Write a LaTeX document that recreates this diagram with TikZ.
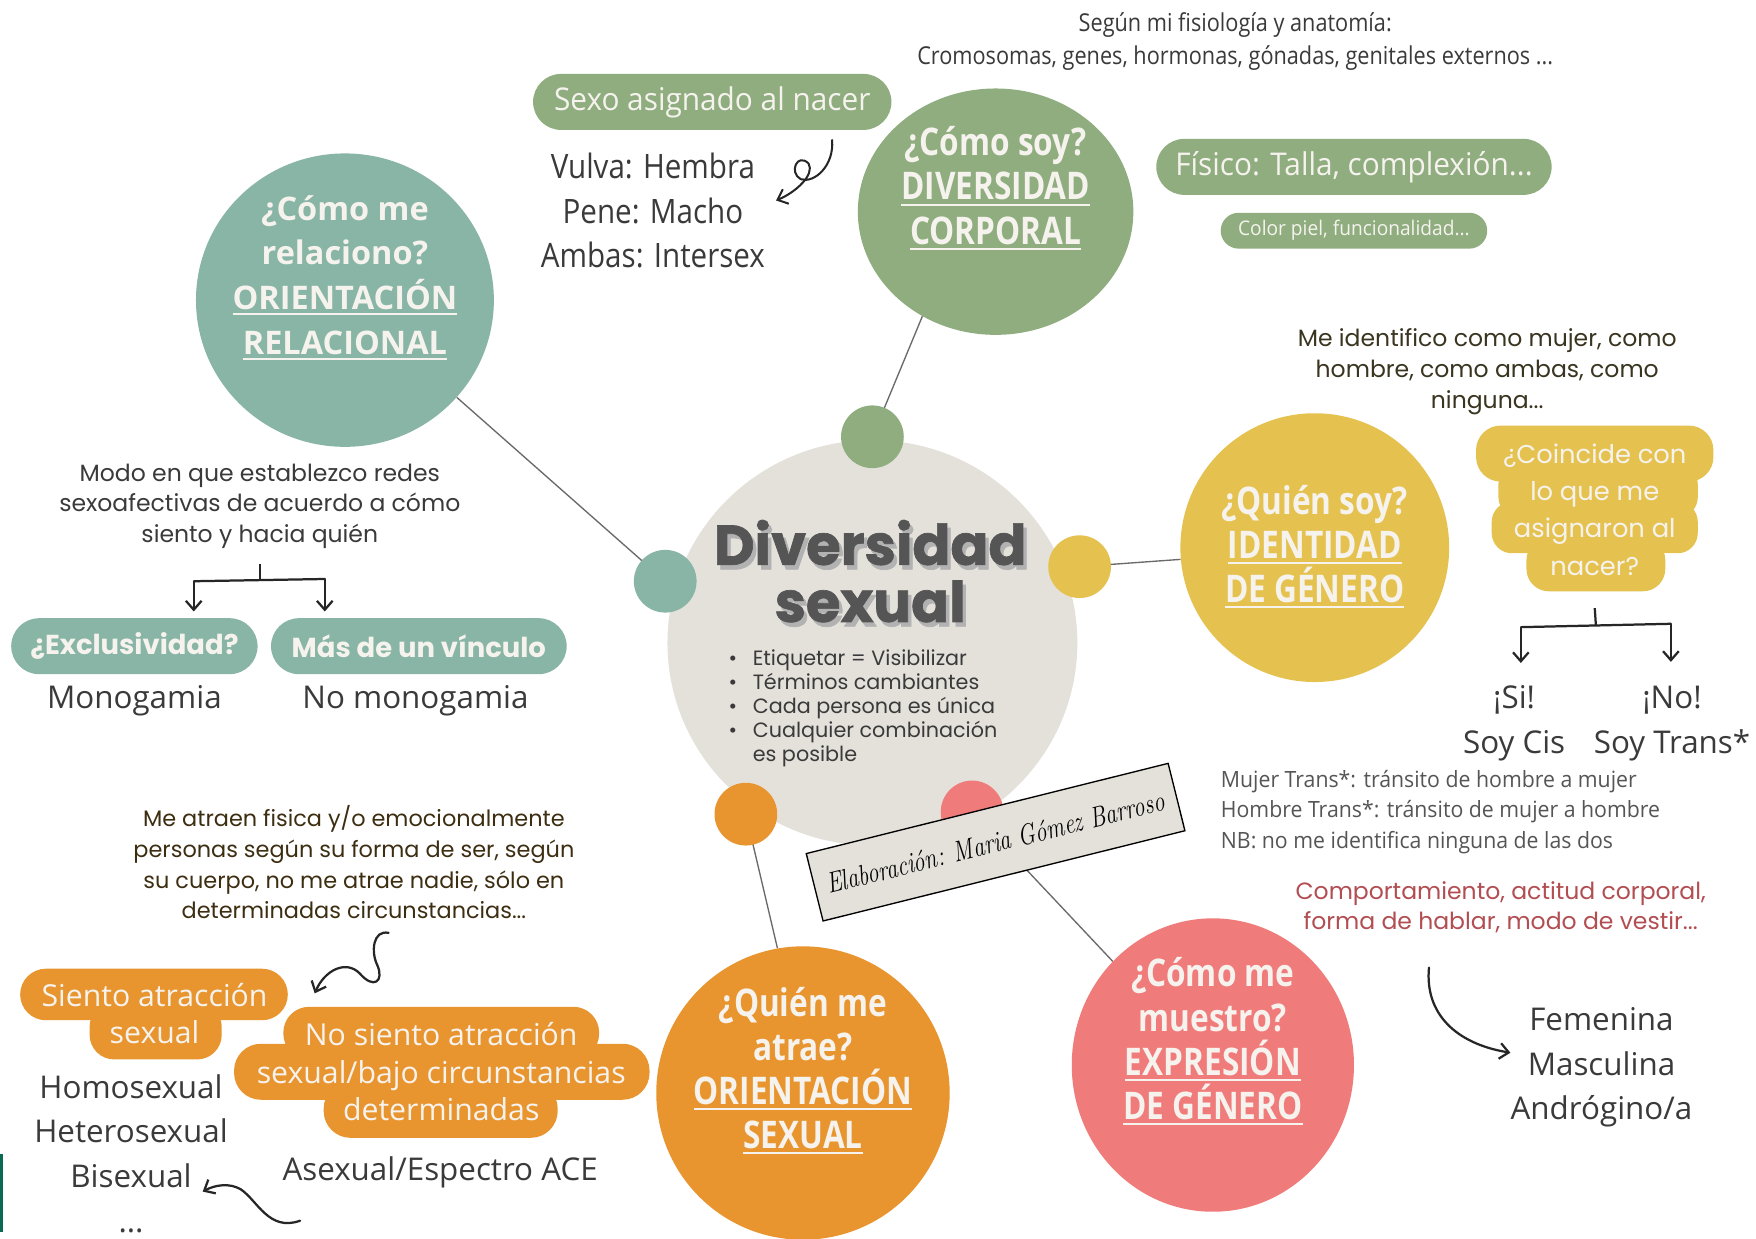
\documentclass[tikz,border=0pt]{standalone}
\usepackage{fontspec}
\newfontfamily\osr{Open Sans}
\newfontfamily\osc{Open Sans}[FakeStretch=0.88]
\newfontfamily\osm{Open Sans}[FakeStretch=0.95]
\newfontfamily\osb{Open Sans}[FakeStretch=0.83]
\newfontfamily\pop{Poppins}
\newfontfamily\popx{Poppins}[FakeBold=1.2]
\usetikzlibrary{arrows.meta,shapes.geometric,backgrounds}
\definecolor{tealc}{HTML}{88B5A5}
\definecolor{sagec}{HTML}{8FAD7F}
\definecolor{yelc}{HTML}{E5C250}
\definecolor{orac}{HTML}{E8952F}
\definecolor{pinkc}{HTML}{F07B7B}
\definecolor{greyc}{HTML}{E4E1DB}
\definecolor{titc}{HTML}{F6F3EE}
\definecolor{txt}{HTML}{3A3A3A}
\definecolor{txtl}{HTML}{555555}
\definecolor{redt}{HTML}{B24E52}
\definecolor{brownt}{HTML}{3D2E12}
\definecolor{olivt}{HTML}{3A3520}
\definecolor{darkg}{HTML}{0B6A52}
\definecolor{spokec}{HTML}{6A6A6A}
\newcommand\ulx[1]{\setbox0\hbox{#1}\rlap{\rule[-5pt]{\wd0}{1.8pt}}\box0}
\newcommand\fsz[2]{\fontsize{#1}{#2}\selectfont}
\newcommand\shd[1]{\rlap{\hspace{3pt}\raisebox{-4pt}{\textcolor{black!30}{#1}}}#1}
\tikzset{
  bigc/.style={ellipse, inner sep=0pt},
  dotc/.style={circle, inner sep=0pt, minimum size=56pt},
  spoke/.style={draw=spokec, line width=1.2pt},
  ttl/.style={text=titc, align=center, inner sep=0pt},
  pillbox/.style={rounded corners=#1, inner sep=0pt},
  body/.style={text=txt, align=center, inner sep=0pt},
  brk/.style={draw=black!85, line width=2pt},
  barb/.style={draw=black!85, line width=2pt, line cap=round, -{Straight Barb[length=8pt,width=14pt]}}
}
\begin{document}
\begin{tikzpicture}[x=1pt,y=-1pt]
\useasboundingbox (0,0) rectangle (1568,1106);

% central circle
\node[bigc, fill=greyc, minimum width=366pt, minimum height=362pt] (cen) at (779,574) {};

% big circles
\node[bigc, fill=tealc, minimum width=266pt, minimum height=262pt] (tc) at (308,268) {};
\node[bigc, fill=sagec, minimum width=246pt, minimum height=220pt] (gc) at (889,189) {};
\node[bigc, fill=yelc, minimum width=240pt, minimum height=240pt] (yc) at (1174,489) {};
\node[bigc, fill=orac, minimum width=262pt, minimum height=262pt] (oc) at (717,976) {};
\node[bigc, fill=pinkc, minimum width=252pt, minimum height=262pt] (pc) at (1083,951) {};

% dots
\node[dotc, fill=sagec] (dg) at (779,390) {};
\node[dotc, fill=tealc] (dt) at (594,519) {};
\node[dotc, fill=yelc] (dy) at (964,506) {};
\node[dotc, fill=orac] (do) at (666,727) {};
\node[dotc, fill=pinkc] (dp) at (868,725) {};

\begin{pgfonlayer}{background}
\fill[white] (0,0) rectangle (1568,1106);
\draw[spoke] (dt.center) -- (tc.-41);
\draw[spoke] (dg.center) -- (gc.235);
\draw[spoke] (dy.center) -- (yc.185);
\draw[spoke] (do.center) -- (oc.100);
\draw[spoke] (dp.center) -- (pc.134);
\end{pgfonlayer}

% titles in circles
\node[ttl, font=\osr\bfseries\fsz{29}{40}] (tct) at (308,248) {¿Cómo me\\relaciono?\\\ulx{ORIENTACIÓN}\\\ulx{RELACIONAL}};
\node[ttl, font=\osb\bfseries\fsz{34}{39.5}] (gct) at (889,168) {¿Cómo soy?\\\ulx{DIVERSIDAD}\\\ulx{CORPORAL}};
\node[ttl, font=\osb\bfseries\fsz{34}{39.5}] (yct) at (1174,488) {¿Quién soy?\\\ulx{IDENTIDAD}\\\ulx{DE GÉNERO}};
\node[ttl, font=\osb\bfseries\fsz{34}{39.5}] (oct) at (717,956) {¿Quién me\\atrae?\\\ulx{ORIENTACIÓN}\\\ulx{SEXUAL}};
\node[ttl, font=\osb\bfseries\fsz{34}{39.5}] (pct) at (1083,930) {¿Cómo me\\muestro?\\\ulx{EXPRESIÓN}\\\ulx{DE GÉNERO}};

% centre title
\node[align=center, inner sep=0pt, text=txtl, font=\popx\bfseries\fsz{50}{51}] (dvs) at (777,512) {\shd{Diversidad}\\\shd{sexual}};
\node[anchor=north west, align=left, inner sep=0pt, text=txt, font=\pop\fsz{18.5}{21.5}] (bul) at (672,580)
 {\llap{\textbullet\hspace{14pt}}Etiquetar = Visibilizar\\
  \llap{\textbullet\hspace{14pt}}Términos cambiantes\\
  \llap{\textbullet\hspace{14pt}}Cada persona es única\\
  \llap{\textbullet\hspace{14pt}}Cualquier combinación\\
  es posible};

% top texts
\node[body, font=\osc\fsz{22}{29}] (top) at (1103,37) {Según mi fisiología y anatomía:\\Cromosomas, genes, hormonas, gónadas, genitales externos ...};
\node[pillbox=25pt, fill=sagec, minimum width=320pt, minimum height=50pt, text=titc, font=\osm\fsz{28}{30}] (sexo) at (636,91) {Sexo asignado al nacer};
\node[body, font=\osc\fsz{30}{40}] (vul) at (583,188) {Vulva: Hembra\\Pene: Macho\\Ambas: Intersex};
\node[pillbox=25pt, fill=sagec, minimum width=353pt, minimum height=50pt, text=titc, font=\osm\fsz{28}{30}] (fis) at (1209,149) {Físico: Talla, complexión...};
\node[pillbox=16pt, fill=sagec, minimum width=238pt, minimum height=32pt, text=titc, font=\osm\fsz{18}{20}] (col) at (1209,206) {Color piel, funcionalidad...};

% identity side
\node[body, text=olivt, font=\pop\fsz{21}{28}] (ident) at (1328,332) {Me identifico como mujer, como\\hombre, como ambas, como\\ninguna...};
\fill[yelc, rounded corners=22pt] (1318,380) rectangle (1530,430);
\fill[yelc, rounded corners=18pt] (1338,414) rectangle (1516,462);
\fill[yelc, rounded corners=18pt] (1332,448) rectangle (1516,494);
\fill[yelc, rounded corners=20pt] (1363,480) rectangle (1487,528);
\node[ttl, font=\pop\fsz{23}{33.3}] (coin) at (1424,455) {¿Coincide con\\lo que me\\asignaron al\\nacer?};
\coordinate (yj) at (1425,558);
\coordinate (yl) at (1358,560);
\coordinate (yr) at (1492,557);
\draw[brk] (coin.south |- 0,543) -- (yj);
\draw[brk] (yl) -- (yr);
\draw[barb] (yl) -- ++(0,32) coordinate (yla);
\draw[barb] (yr) -- ++(0,34) coordinate (yra);
\node[body, font=\osr\fsz{28}{40}] (si) at (1352,646) {¡Si!\\Soy Cis};
\node[body, font=\osr\fsz{28}{40}] (no) at (1493,646) {¡No!\\Soy Trans*};
\node[anchor=west, align=left, inner sep=0pt, text=txtl, font=\osm\fsz{20}{27.5}] (trn) at (1090,725) {Mujer Trans*: tránsito de hombre a mujer\\Hombre Trans*: tránsito de mujer a hombre\\NB: no me identifica ninguna de las dos};

% expression side
\node[body, text=redt, font=\pop\fsz{21}{27}] (comp) at (1340,810) {Comportamiento, actitud corporal,\\forma de hablar, modo de vestir...};
\node[body, font=\osr\fsz{28}{40}] (fem) at (1430,953) {Femenina\\Masculina\\Andrógino/a};
\coordinate (ea) at (1276,864);
\draw[barb] (ea) .. controls (1272,905) and (1300,932) .. (fem.west |- 0,940);

% relational side
\node[body, font=\pop\fsz{21}{27.5}] (modo) at (232,452) {Modo en que establezco redes\\sexoafectivas de acuerdo a cómo\\siento y hacia quién};
\coordinate (tj) at (232,517);
\coordinate (tl) at (173,519);
\coordinate (tr) at (290,517);
\draw[brk] (modo.south |- 0,504) -- (tj);
\draw[brk] (tl) -- (tr);
\draw[barb] (tl) -- ++(0,27) coordinate (tla);
\draw[barb] (tr) -- ++(0,29) coordinate (tra);
\node[pillbox=25pt, fill=tealc, minimum width=220pt, minimum height=50pt, text=titc, font=\pop\bfseries\fsz{24.5}{26}] (excl) at (120,577) {¿Exclusividad?};
\node[pillbox=25pt, fill=tealc, minimum width=264pt, minimum height=50pt, text=titc, font=\pop\bfseries\fsz{24.5}{26}] (mas) at (374,577) {Más de un vínculo};
\node[body, font=\osr\fsz{28}{34}] (mono) at (120,626) {Monogamia};
\node[body, font=\osr\fsz{28}{34}] (nomono) at (371,626) {No monogamia};

% sexual orientation side
\node[body, text=brownt, font=\pop\fsz{20}{27.3}] (atr) at (316,770) {Me atraen fisica y/o emocionalmente\\personas según su forma de ser, según\\su cuerpo, no me atrae nadie, sólo en\\determinadas circunstancias...};
\coordinate (sq) at (347,833);
\draw[barb] (sq) .. controls (333,830) and (331,850) .. (337,862)
   .. controls (343,876) and (334,884) .. (321,869)
   .. controls (309,857) and (290,866) .. (281,887);
\fill[orac, rounded corners=23pt] (18,865) rectangle (257,911);
\fill[orac, rounded corners=22pt] (80,895) rectangle (198,946);
\node[ttl, font=\osr\fsz{27}{33}] (sa) at (138,905) {Siento atracción\\sexual};
\fill[orac, rounded corners=23pt] (253,899) rectangle (535,946);
\fill[orac, rounded corners=24pt] (209,932) rectangle (580,982);
\fill[orac, rounded corners=24pt] (289,966) rectangle (498,1016);
\node[ttl, font=\osr\fsz{27}{33.5}] (nsa) at (394,957) {No siento atracción\\sexual/bajo circunstancias\\determinadas};
\node[body, font=\osr\fsz{28}{40}] (hom) at (117,1030) {Homosexual\\Heterosexual\\Bisexual\\...};
\node[body, font=\osr\fsz{28}{34}] (ase) at (393,1047) {Asexual/Espectro ACE};
\coordinate (ba) at (268,1090);
\draw[barb] (ba) .. controls (240,1100) and (230,1072) .. (215,1062) .. controls (205,1056) and (192,1058) .. (181,1064);

% curly arrow near sexo
\coordinate (ca) at (743,125);
\draw[barb, line width=1.8pt] (ca) .. controls (745,148) and (727,164) .. (715,160)
   .. controls (704,154) and (712,136) .. (722,146)
   .. controls (728,156) and (710,172) .. (693,179);

% signature label
\node[draw=black, line width=1.2pt, fill=greyc, rotate=14, minimum width=333pt, minimum height=62pt, inner sep=2pt, font=\rmfamily\itshape\fsz{26}{28}] (lab) at (889,752) {\scalebox{0.78}[1]{Elaboración: Maria Gómez Barroso}};

% left edge bar
\fill[darkg] (0,1030) rectangle (3,1100);
\end{tikzpicture}
\end{document}
